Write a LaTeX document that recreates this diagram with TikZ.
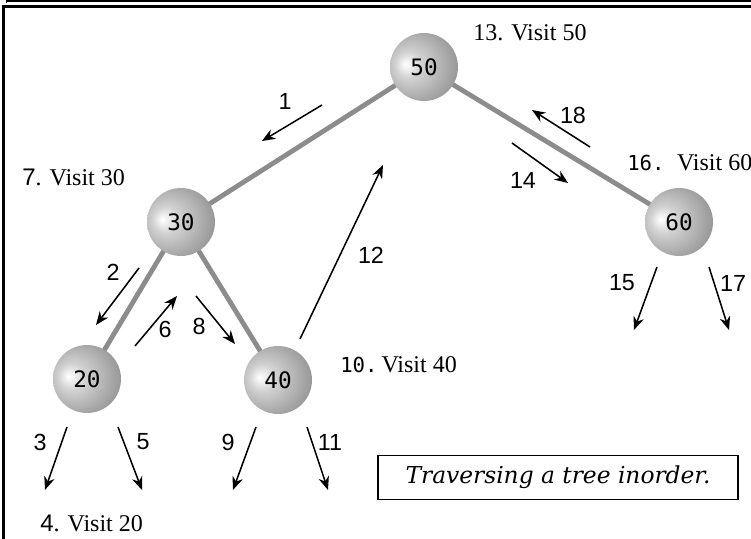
\documentclass[tikz,border=0pt]{standalone}
\usepackage{fontspec}
\setmainfont{Liberation Serif}
\newfontfamily\lblsans{Liberation Sans}
\newfontfamily\lblmono{DejaVu Sans Mono}
\newfontfamily\capfont{DejaVu Serif}
\usetikzlibrary{arrows.meta,backgrounds}
\pgfdeclareradialshading{sphere}{\pgfpoint{-14bp}{2bp}}{%
  color(0bp)=(white);
  color(10bp)=(black!18);
  color(30bp)=(black!40);
  color(42bp)=(black!55);
  color(50bp)=(black!55)}
\tikzset{
  treenode/.style={circle, minimum size=51pt, inner sep=0pt, shading=sphere,
    font=\lblmono\fontsize{17}{19}\selectfont},
  edge/.style={draw=black!45, line width=3.6pt},
  trav/.style={draw=black, line width=1.15pt, -{Stealth[length=10pt,width=8pt]}},
  num/.style={font=\lblsans\fontsize{17.5}{19}\selectfont, inner sep=0pt},
  visit/.style={font=\fontsize{18}{20}\selectfont, inner sep=0pt},
  frameline/.style={draw=black, line width=1.6pt}
}
\begin{document}
\begin{tikzpicture}[x=0.75pt,y=-0.75pt]
\useasboundingbox (0,0) rectangle (751,539);
% frame
\coordinate (f1) at (6,1); \coordinate (f2) at (751,1);
\coordinate (f3) at (3.5,539); \coordinate (f4) at (3.5,6.5); \coordinate (f5) at (751,6.5);
\coordinate (f6) at (6.5,0); \coordinate (f7) at (6.5,3);
\draw[frameline] (f1) -- (f2);
\draw[frameline] (f3) -- (f4) -- (f5);
\draw[draw=black, line width=1pt] (f6) -- (f7);
% nodes
\node[treenode] (n50) at (424,67) {50};
\node[treenode] (n30) at (181,222) {30};
\node[treenode] (n60) at (679,222) {60};
\node[treenode] (n20) at (87,379) {20};
\node[treenode] (n40) at (278,380) {40};
\begin{scope}[on background layer]
\draw[edge] (n50.center) -- (n30.center);
\draw[edge] (n50.center) -- (n60.center);
\draw[edge] (n30.center) -- (n20.center);
\draw[edge] (n30.center) -- (n40.center);
\end{scope}
% visit labels
\node[visit, anchor=west] (v13) at (473,33) {13. Visit 50};
\node[visit, anchor=west] (v7) at (22,177) {{\lblsans 7}. Visit 30};
\node[visit, anchor=west] (v16) at (627,163) {{\lblmono\fontsize{15.5}{18}\selectfont 16.~}Visit 60};
\node[visit, anchor=west] (v10) at (340,365) {{\lblmono\fontsize{15.5}{18}\selectfont 10.}\kern3pt Visit 40};
\node[visit, anchor=west] (v4) at (40,523) {{\lblsans 4}. Visit 20};
% traversal arrows
\coordinate (a1s) at (322,105); \coordinate (a1e) at (262,141);
\coordinate (a2s) at (139,268); \coordinate (a2e) at (96,325);
\coordinate (a6s) at (135,346); \coordinate (a6e) at (177,296);
\coordinate (a8s) at (196,296); \coordinate (a8e) at (235,344);
\coordinate (a12s) at (300,339); \coordinate (a12e) at (383,165);
\coordinate (a14s) at (512,143); \coordinate (a14e) at (568,183);
\coordinate (a18s) at (590,147); \coordinate (a18e) at (532,110);
\coordinate (a15s) at (657,267); \coordinate (a15e) at (634,330);
\coordinate (a17s) at (709,267); \coordinate (a17e) at (729,330);
\coordinate (a3s) at (67,427); \coordinate (a3e) at (45,490);
\coordinate (a5s) at (118,427); \coordinate (a5e) at (142,490);
\coordinate (a9s) at (256,427); \coordinate (a9e) at (233,490);
\coordinate (a11s) at (307,427); \coordinate (a11e) at (328,490);
\foreach \a in {1,2,6,8,12,14,18,15,17,3,5,9,11}{
  \draw[trav] (a\a s) -- (a\a e);
}
\node[num] (l1) at (285,101) {1};
\node[num] (l2) at (113,272) {2};
\node[num] (l6) at (165,329) {6};
\node[num] (l8) at (199,326) {8};
\node[num] (l12) at (371,255) {12};
\node[num] (l14) at (523,180) {14};
\node[num] (l18) at (573,115) {18};
\node[num] (l15) at (622,283) {15};
\node[num] (l17) at (733,283) {17};
\node[num] (l3) at (40,442) {3};
\node[num] (l5) at (143,442) {5};
\node[num] (l9) at (228,442) {9};
\node[num] (l11) at (330,442) {11};
% caption
\node[draw=black, line width=1pt, minimum width=270pt, minimum height=33pt, inner sep=0pt,
  font=\capfont\itshape\fontsize{17.5}{19}\selectfont] (cap) at (558,477.5) {Traversing a tree inorder.};
\end{tikzpicture}
\end{document}
